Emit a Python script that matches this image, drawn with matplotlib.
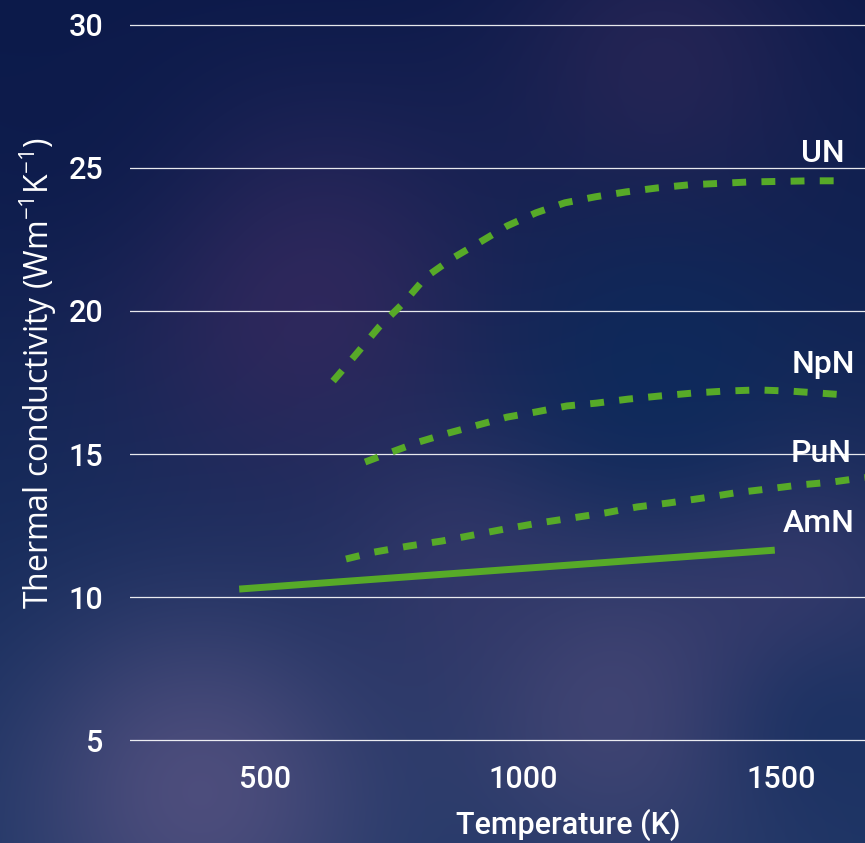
import numpy as np
import matplotlib
matplotlib.use("Agg")
import matplotlib.pyplot as plt
from matplotlib.colors import to_rgb

# ---------------- data ----------------
un_T = [632, 672, 721, 770, 812, 864, 917, 969, 1025, 1081, 1140, 1199, 1260, 1322, 1440, 1560, 1620]
un_k = [17.55, 18.39, 19.44, 20.31, 21.19, 21.85, 22.41, 22.97, 23.43, 23.78, 23.99, 24.16, 24.30, 24.41, 24.51, 24.55, 24.55]

npn_T = [694, 735, 798, 855, 910, 969, 1025, 1085, 1143, 1204, 1266, 1329, 1391, 1455, 1517, 1574, 1630]
npn_k = [14.72, 15.00, 15.42, 15.73, 16.00, 16.29, 16.47, 16.68, 16.78, 16.92, 17.03, 17.13, 17.20, 17.24, 17.20, 17.13, 17.06]

pun_T = [657, 711, 777, 843, 904, 965, 1031, 1093, 1159, 1221, 1283, 1348, 1410, 1475, 1537, 1599, 1663]
pun_k = [11.33, 11.57, 11.78, 11.96, 12.17, 12.38, 12.59, 12.76, 12.94, 13.15, 13.29, 13.46, 13.64, 13.78, 13.92, 14.02, 14.18]

amn_T = [450, 1488]
amn_k = [10.28, 11.64]

labels = ["UN", "NpN", "PuN", "AmN"]
label_pos = [(1624, 25.21), (1643, 17.83), (1636, 14.72), (1643, 12.27)]

x_ticks = [500, 1000, 1500]
y_ticks = [5, 10, 15, 20, 25, 30]

# ---------------- figure ----------------
W, H = 865, 843
fig = plt.figure(figsize=(W / 100, H / 100), dpi=100)

# background
yy, xx = np.mgrid[0:H, 0:W].astype(float)
top = np.array(to_rgb("#0c1a4a"))
bot = np.array(to_rgb("#1c3565"))
t = (yy / H)[..., None]
img = top * (1 - t) + bot * t
blobs = [
    (300, 300, 130, "#34295e", 0.85),
    (660, 60, 110, "#2d2858", 0.7),
    (200, 790, 130, "#52507f", 0.9),
    (620, 700, 130, "#4a4a78", 0.8),
    (790, 600, 100, "#403e70", 0.7),
    (460, 560, 90, "#3a3a6c", 0.6),
    (660, 380, 100, "#0d2a5c", 0.8),
    (830, 730, 80, "#1a3162", 0.8),
    (60, 120, 120, "#0c1a4a", 0.6),
]
for bx, by, s, c, a in blobs:
    w = (a * np.exp(-((xx - bx) ** 2 + (yy - by) ** 2) / (2 * s * s)))[..., None]
    img = img * (1 - w) + np.array(to_rgb(c)) * w
bg = fig.add_axes([0, 0, 1, 1], zorder=-1)
bg.imshow(img, aspect="auto", interpolation="bilinear")
bg.axis("off")

# main axes
left_px, right_px, top_px, bot_px = 130, 865, 10, 755
ax = fig.add_axes([left_px / W, 1 - bot_px / H, (right_px - left_px) / W, (bot_px - top_px) / H])
ax.set_facecolor("none")
for s in ax.spines.values():
    s.set_visible(False)

ax.set_xlim(238.4, 1662.8)
ax.set_ylim(4.48, 30.52)
ax.set_xticks(x_ticks)
ax.set_yticks(y_ticks)
ax.tick_params(length=0, colors="white", labelsize=22)
ax.tick_params(axis="y", pad=19)
ax.tick_params(axis="x", pad=7)
for lab in ax.get_xticklabels() + ax.get_yticklabels():
    lab.set_fontfamily("Roboto")
    lab.set_fontweight("medium")
ax.grid(axis="y", color="white", linewidth=0.9, alpha=0.9)
ax.set_axisbelow(True)

green = "#57aa28"
lw = 5
ax.plot(un_T, un_k, color=green, lw=lw, dashes=(2.0, 2.2), dash_capstyle="butt")
ax.plot(npn_T, npn_k, color=green, lw=lw, dashes=(2.0, 2.2), dash_capstyle="butt")
ax.plot(pun_T, pun_k, color=green, lw=lw, dashes=(2.0, 2.2), dash_capstyle="butt")
ax.plot(amn_T, amn_k, color=green, lw=lw, solid_capstyle="butt")

for name, (tx, ty) in zip(labels, label_pos):
    ax.text(tx, ty, name, color="white", fontsize=23, fontfamily="Roboto",
            fontweight="medium", ha="right", va="baseline")

fig.text(568 / W, 1 - 825 / H, "Temperature (K)", color="white", fontsize=22,
         fontfamily="Roboto", fontweight="medium", ha="center", va="center")
fig.text(38 / W, 1 - 373 / H, r"Thermal conductivity (Wm$^{\mathregular{-1}}$K$^{\mathregular{-1}}$)",
         color="white", fontsize=23, fontfamily="Open Sans", rotation=90,
         ha="center", va="center")

fig.savefig("out.png", dpi=100)
